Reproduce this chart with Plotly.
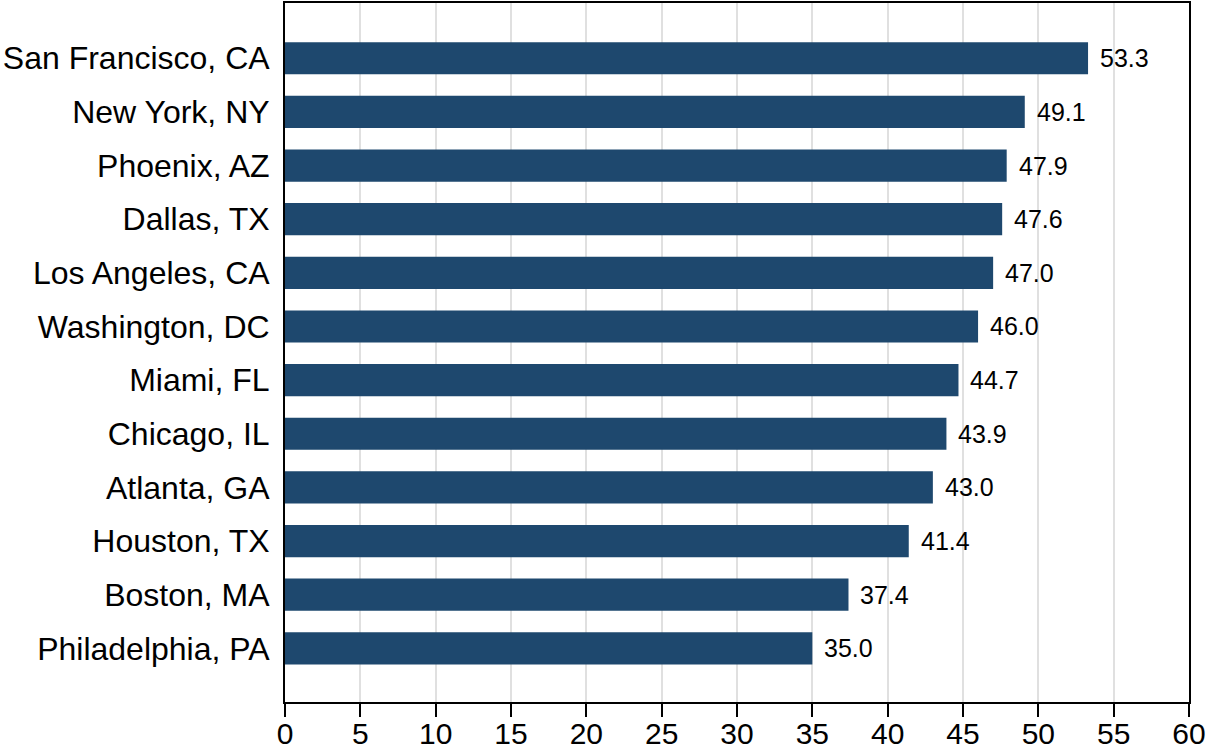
import plotly.graph_objects as go

# data
cities = ["San Francisco, CA", "New York, NY", "Phoenix, AZ", "Dallas, TX",
          "Los Angeles, CA", "Washington, DC", "Miami, FL", "Chicago, IL",
          "Atlanta, GA", "Houston, TX", "Boston, MA", "Philadelphia, PA"]
values = [53.3, 49.1, 47.9, 47.6, 47.0, 46.0, 44.7, 43.9, 43.0, 41.4, 37.4, 35.0]
x_ticks = list(range(0, 61, 5))

bar_color = "#1e486e"
font_family = "Liberation Sans, Arial, Helvetica, sans-serif"

fig = go.Figure()
fig.add_trace(go.Bar(
    x=values, y=cities, orientation="h",
    marker=dict(color=bar_color, line=dict(width=0)),
    width=0.6,
    hoverinfo="x+y",
))

# value labels just right of each bar
for c, v in zip(cities, values):
    fig.add_annotation(x=v, y=c, text=f"{v:.1f}", showarrow=False,
                       xanchor="left", xshift=10,
                       font=dict(size=25, color="black", family=font_family))

fig.update_xaxes(
    range=[0, 60], tickvals=x_ticks, ticktext=[str(t) for t in x_ticks],
    showgrid=True, gridcolor="#e0e0e0", gridwidth=2,
    showline=True, linecolor="black", linewidth=2, mirror=True,
    ticks="outside", ticklen=13, tickwidth=2, tickcolor="black",
    tickfont=dict(size=30, color="black", family=font_family),
    ticklabeloverflow="allow", ticklabelstandoff=-9,
    zeroline=False, automargin=False,
)
fig.update_yaxes(
    categoryorder="array", categoryarray=cities,
    range=[12.0, -1.03],
    showgrid=False,
    showline=True, linecolor="black", linewidth=2, mirror=True,
    ticks="", ticklabelstandoff=7,
    tickfont=dict(size=32, color="black", family=font_family),
    automargin=False,
)

fig.update_layout(
    width=1206, height=753,
    margin=dict(l=285, r=17, t=3, b=51),
    plot_bgcolor="white", paper_bgcolor="white",
    showlegend=False,
    bargap=0.4,
)

# drop the default page margin so the figure sits at the window's corner
fig.write_html("out.html", config={"displayModeBar": False},
               post_script="document.body.style.margin='0';")
